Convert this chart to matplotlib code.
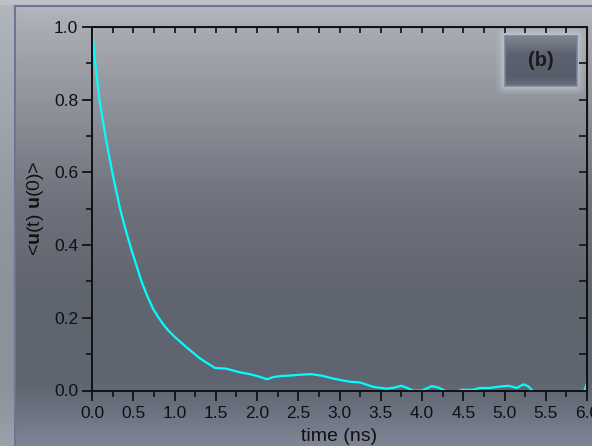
import numpy as np
import matplotlib
matplotlib.use('Agg')
import matplotlib.pyplot as plt
from matplotlib.colors import LinearSegmentedColormap
from matplotlib.patches import Rectangle, FancyBboxPatch
from matplotlib.ticker import MultipleLocator

plt.rcParams['font.family'] = ['Liberation Sans', 'DejaVu Sans']
plt.rcParams['mathtext.fontset'] = 'custom'
plt.rcParams['mathtext.rm'] = 'Liberation Sans'
plt.rcParams['mathtext.bf'] = 'Liberation Sans:bold'

# autocorrelation curve
time_ns = [0.0, 0.03, 0.09, 0.17, 0.255, 0.34, 0.41, 0.48, 0.60, 0.67, 0.74, 0.80,
           0.87, 0.93, 1.00,
           1.15, 1.31, 1.49, 1.63, 1.79, 1.89, 2.00, 2.12, 2.20, 2.30, 2.40, 2.50,
           2.66, 2.80, 2.92, 3.03, 3.13, 3.25, 3.33, 3.41, 3.57, 3.67, 3.75, 3.83,
           3.90, 4.00, 4.12, 4.20, 4.30, 4.37, 4.44, 4.48, 4.62, 4.70, 4.82, 4.95,
           5.05, 5.15, 5.23, 5.29, 5.35, 5.50, 5.70, 5.90, 5.96, 6.00]
corr = [1.0, 0.92, 0.80, 0.69, 0.59, 0.50, 0.44, 0.386, 0.30, 0.26, 0.225, 0.203,
        0.180, 0.164, 0.148,
        0.118, 0.088, 0.062, 0.060, 0.050, 0.046, 0.040, 0.031, 0.037, 0.040, 0.041, 0.043,
        0.045, 0.040, 0.033, 0.028, 0.024, 0.022, 0.016, 0.010, 0.005, 0.008, 0.013, 0.006,
        -0.001, 0.000, 0.012, 0.008, -0.003, -0.006, -0.002, 0.002, 0.002, 0.007, 0.007, 0.011,
        0.013, 0.007, 0.017, 0.011, -0.003, -0.02, -0.03, -0.015, -0.005, 0.02]

panel_label = '(b)'
xlabel = 'time (ns)'
ylabel = r'<$\mathbf{u}$(t) $\mathbf{u}$(0)>'

fig = plt.figure(figsize=(5.92, 4.46), dpi=100)

# gradient background over the whole figure
bg = fig.add_axes([0, 0, 1, 1], zorder=-10)
bg.axis('off')
grad_cmap = LinearSegmentedColormap.from_list('bg', [
    (0.0, '#b6b9bf'), (0.06, '#a9acb3'), (0.25, '#8c9099'), (0.45, '#6e727c'),
    (0.65, '#60656f'), (0.86, '#5f6571'), (0.93, '#6c7381'), (1.0, '#7f8796')])
bg.imshow(np.linspace(0, 1, 256).reshape(-1, 1), aspect='auto', cmap=grad_cmap,
          extent=[0, 1, 0, 1])
# light frame strips on left/top with a thin darker border line
bg.add_patch(Rectangle((0, 0), 14 / 592, 1, color='#b3b7bf', alpha=0.55, lw=0))
bg.add_patch(Rectangle((0, 1 - 5 / 446), 1, 5 / 446, color='#c4c8ce', alpha=0.6, lw=0))
bg.plot([14.5 / 592, 14.5 / 592], [0, 1 - 5.5 / 446], color='#6a7791', lw=1.5)
bg.plot([14.5 / 592, 1], [1 - 5.5 / 446, 1 - 5.5 / 446], color='#6a7791', lw=1.5)

# panel label glow, in figure pixels
for i, a in enumerate([0.07, 0.09, 0.12, 0.16, 0.2]):
    pad = (5 - i) * 1.8
    bg.add_patch(FancyBboxPatch((505 - pad, 360 - pad), 71.5 + 2 * pad, 50 + 2 * pad,
                                boxstyle='round,pad=0,rounding_size=%g' % (pad + 1),
                                transform=None, facecolor='#d8dbe0', alpha=a, lw=0))
# panel label box with its own shading
box_cmap = LinearSegmentedColormap.from_list('box', [
    (0.0, '#80868f'), (0.35, '#5d6371'), (0.8, '#575d6b'), (1.0, '#676d7b')])
bx0, bx1, by0, by1 = 505 / 592, 576.5 / 592, 360 / 446, 410 / 446
bg.imshow(np.linspace(0, 1, 64).reshape(-1, 1), aspect='auto', cmap=box_cmap,
          extent=[bx0, bx1, by0, by1], zorder=3)
bg.add_patch(Rectangle((bx0, by0), bx1 - bx0, by1 - by0, facecolor='none',
                       edgecolor='#7686a2', lw=1.2, zorder=4))
bg.set_xlim(0, 1)
bg.set_ylim(0, 1)

ax = fig.add_axes([92 / 592, 1 - 390.5 / 446, 495 / 592, 363.5 / 446])
ax.set_facecolor('none')
ax.plot(time_ns, corr, color='#00ffff', lw=1.6)
ax.set_xlim(0, 6)
ax.set_ylim(0, 1)

for s in ax.spines.values():
    s.set_linewidth(1.4)
    s.set_color('#111111')

ax.xaxis.set_major_locator(MultipleLocator(0.5))
ax.xaxis.set_minor_locator(MultipleLocator(0.25))
ax.yaxis.set_major_locator(MultipleLocator(0.2))
ax.yaxis.set_minor_locator(MultipleLocator(0.1))
ax.tick_params(which='major', direction='out', length=7, width=1.3, labelsize=12.5,
               colors='#111111', pad=4)
ax.tick_params(axis='y', which='major', pad=3)
ax.tick_params(which='minor', direction='out', length=4, width=1.2, colors='#111111')

top = ax.secondary_xaxis('top')
top.xaxis.set_major_locator(MultipleLocator(0.25))
top.tick_params(direction='in', length=4, width=1.2, labeltop=False, colors='#111111')
right = ax.secondary_yaxis('right')
right.yaxis.set_major_locator(MultipleLocator(0.1))
right.tick_params(direction='in', length=6, width=1.2, labelright=False, colors='#111111')

ax.set_xlabel(xlabel, fontsize=14, color='#111111', labelpad=5)
ax.set_ylabel(ylabel, fontsize=14, color='#111111', labelpad=6)

ax.text(0.906, 0.907, panel_label, transform=ax.transAxes, ha='center', va='center',
        fontsize=14.5, fontweight='bold', color='#1c1c1c', zorder=6)

fig.savefig('out.png', dpi=100)
